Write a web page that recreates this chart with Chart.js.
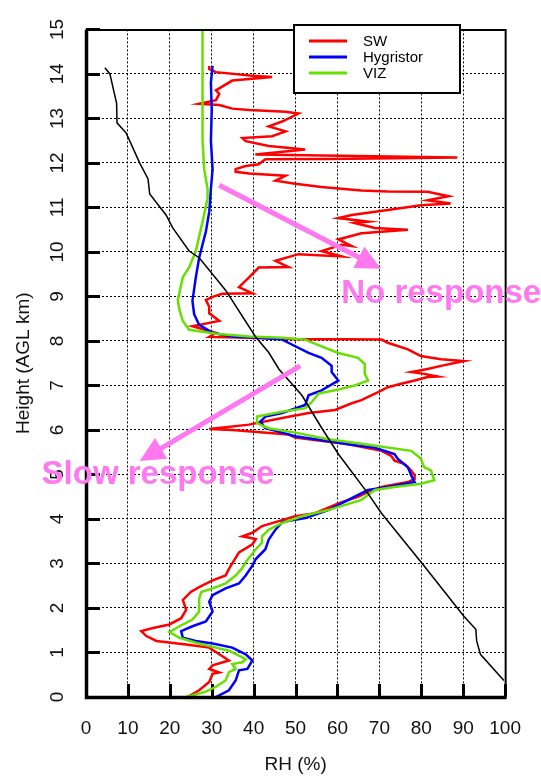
<!DOCTYPE html>
<html>
<head>
<meta charset="utf-8">
<script src="https://cdn.jsdelivr.net/npm/chart.js@4.4.1/dist/chart.umd.min.js"></script>
<style>
  html, body { margin: 0; padding: 0; background: #fff; }
  #wrap { width: 541px; height: 776px; }
</style>
</head>
<body>
<div id="wrap"><canvas id="rhChart"></canvas></div>
<script>
// tick values
const xTickValues = [0, 10, 20, 30, 40, 50, 60, 70, 80, 90, 100];
const yTickValues = [0, 1, 2, 3, 4, 5, 6, 7, 8, 9, 10, 11, 12, 13, 14, 15];

const seriesLabels = ["SW", "Hygristor", "VIZ"];

const swProfile = [
  [24.2,0.0],[27,0.15],[29.4,0.34],[30.2,0.52],[31.8,0.55],[29.4,0.63],[30.2,0.71],[34.1,0.82],[31.8,0.96],
  [29.4,1.11],[23.9,1.18],[16.8,1.26],[14.4,1.37],[13.2,1.48],[16,1.55],[19.9,1.63],[22.7,1.77],[23.9,1.96],
  [23.1,2.18],[25,2.36],[27,2.47],[30.2,2.62],[33.3,2.73],[34.1,2.88],[36.5,3.25],[39.7,3.43],[40.5,3.55],
  [37.3,3.61],[39.7,3.69],[42,3.84],[45.2,3.93],[49.9,4.06],[54.7,4.13],[60.2,4.35],[64.9,4.5],[67.3,4.61],
  [70.5,4.72],[76.8,4.83],[78.4,4.9],[78.4,4.98],[77.6,5.09],[75.9,5.24],[73.6,5.31],[72.8,5.42],[70.5,5.53],
  [62.6,5.68],[49.9,5.83],[48.3,5.9],[34.9,6.0],[29.4,6.02],[38.9,6.12],[46.8,6.27],[53.1,6.38],[59.4,6.45],
  [63.4,6.6],[65.7,6.67],[69.7,6.85],[72,6.96],[75.2,7.04],[78.4,7.11],[81.5,7.19],[83.9,7.2],[80.7,7.26],
  [77.6,7.3],[81.5,7.37],[84.7,7.44],[90.2,7.55],[84.7,7.59],[79.9,7.66],[76.8,7.81],[72,7.96],[70.5,8.03],
  [62.6,8.04],[50.7,8.04],[38.9,8.07],[29.4,8.09],[31,8.18],[25.4,8.33],[31.8,8.45],[29.4,8.62],[29.4,8.77],
  [28.6,8.92],[30.2,8.99],[32.5,9.06],[39.7,9.07],[36.5,9.21],[38.9,9.43],[41.2,9.65],[48.3,9.66],[45.2,9.8],
  [50.7,9.95],[61,9.9],[56.2,10.02],[61,10.16],[63.4,10.13],[60.2,10.28],[65.7,10.42],[76.8,10.5],[68.9,10.54],
  [64.1,10.65],[67.3,10.68],[60.2,10.76],[63.4,10.83],[72,10.94],[79.9,11.05],[87,11.09],[81.5,11.16],
  [86.5,11.25],[81.5,11.35],[72,11.36],[65.7,11.38],[56.2,11.46],[49.9,11.53],[45.2,11.6],[47.6,11.71],
  [38.9,11.76],[35.7,11.8],[35.7,11.86],[38.1,11.93],[41.2,11.97],[42.8,12.08],[57.8,12.09],[88.6,12.12],
  [40.4,12.19],[52.3,12.3],[43.6,12.38],[38.1,12.49],[37.3,12.56],[44.4,12.6],[47.6,12.71],[43.6,12.82],
  [46.8,12.93],[50.7,13.11],[47.6,13.15],[38.9,13.19],[34.9,13.22],[31.8,13.3],[27,13.33],[31,13.41],
  [31.8,13.55],[31,13.63],[34.9,13.85],[44.4,13.93],[39.7,13.96],[31,14.04],[29.4,14.11],[29.4,14.18]
];

const hygristorProfile = [
  [31,0],[34.1,0.15],[35.7,0.37],[36.5,0.6],[38.5,0.63],[39.7,0.82],[38.1,0.96],[34.9,1.11],[30.2,1.2],
  [26.2,1.26],[23.1,1.33],[22.7,1.48],[25.4,1.59],[28.6,1.7],[30.2,1.92],[29.4,2.14],[30.2,2.29],[33.3,2.44],
  [36.5,2.55],[38.1,2.73],[39.7,2.95],[40.5,3.1],[42.8,3.32],[43.6,3.54],[45.2,3.76],[46.8,3.93],[52.3,4.02],
  [57.8,4.2],[64.1,4.5],[67.3,4.65],[72,4.72],[78.4,4.83],[77.6,4.98],[76.8,5.16],[74.4,5.35],[73.6,5.46],
  [68.9,5.6],[62.6,5.68],[54.7,5.79],[49.9,5.86],[46.8,5.94],[42.8,6.04],[41.6,6.19],[42.8,6.3],[46.8,6.38],
  [52.3,6.56],[53.1,6.78],[56.2,6.89],[60.2,7.11],[58.6,7.3],[58.6,7.44],[56.2,7.62],[53.1,7.73],[49.1,7.92],
  [46.8,8.03],[41.2,8.07],[34.9,8.1],[30.2,8.18],[27,8.36],[25.8,8.6],[25.4,8.9],[26.2,9.43],[27,9.87],
  [28.6,10.46],[29.4,10.9],[29.8,11.42],[30.2,11.86],[29.8,12.5],[30,13.2],[29.8,13.8],[30.2,14.18]
];

const vizProfile = [
  [23.9,0],[28.6,0.12],[31,0.23],[33.3,0.37],[34.1,0.56],[35.7,0.63],[34.9,0.74],[37.3,0.78],[38.1,0.85],
  [36.5,0.93],[34.1,1.04],[31,1.11],[26.2,1.22],[22.3,1.33],[19.9,1.46],[22.3,1.59],[25.4,1.74],[27,1.92],
  [27,2.21],[27.5,2.36],[30.2,2.44],[33.3,2.55],[35.7,2.73],[37.3,2.9],[38.1,3.03],[40.5,3.32],[42,3.47],
  [42,3.61],[43.6,3.76],[46.8,3.91],[51.5,4.06],[57.8,4.2],[65.7,4.43],[68.9,4.65],[73.6,4.72],[79.9,4.79],
  [83.1,4.87],[82.3,5.09],[80.7,5.16],[79.9,5.35],[79.1,5.42],[77.6,5.53],[66.5,5.68],[57.8,5.79],[49.9,5.94],
  [43.6,6.04],[40.8,6.15],[40.8,6.3],[46.8,6.41],[52.3,6.49],[53.9,6.63],[55.5,6.82],[59.4,6.89],[64.1,7.0],
  [67.3,7.11],[66.5,7.26],[66.5,7.48],[64.9,7.62],[60.2,7.73],[56.2,7.88],[52.3,8.03],[46.8,8.07],[38.9,8.1],
  [31,8.16],[24.6,8.25],[23.1,8.45],[22.3,8.69],[21.9,8.92],[23.1,9.43],[24.6,9.65],[26.2,10.02],[27.8,10.68],
  [29,11.2],[29,11.42],[28.2,11.86],[27.8,12.5],[27.8,13.5],[27.8,14.2],[27.8,15]
];

const blackProfile = [
  [99.7,0.37],[94.1,0.96],[93.2,1.26],[93.0,1.52],[90.2,1.81],[80.3,2.99],[70.5,4.13],[67.3,4.57],[60.2,5.46],
  [56.2,6.05],[51.5,6.78],[46,7.37],[43.6,7.74],[40.4,8.1],[33.3,9.14],[27,9.87],[24.6,10.02],[20.7,10.54],
  [19.1,10.83],[15.2,11.3],[14.8,11.64],[12.8,12.0],[9.6,12.67],[7.4,12.9],[7.3,13.34],[5.7,14.0],[4.5,14.14]
];

// annotations, in data units [RH, km]
const noResponseArrow = { from: [31.8, 11.5], to: [70.4, 9.62] };
const slowResponseArrow = { from: [51.1, 7.44], to: [12.8, 5.3] };
const noResponseText = { text: "No response", at: [60.9, 9.05] };
const slowResponseText = { text: "Slow response", at: [-10.6, 4.98] };

const toXY = (arr) => arr.map(p => ({ x: p[0], y: p[1] }));

function drawArrow(ctx, x, y, a) {
  const x0 = x.getPixelForValue(a.from[0]), y0 = y.getPixelForValue(a.from[1]);
  const x1 = x.getPixelForValue(a.to[0]), y1 = y.getPixelForValue(a.to[1]);
  const len = Math.hypot(x1 - x0, y1 - y0);
  const dx = (x1 - x0) / len, dy = (y1 - y0) / len;
  const bx = x1 - dx * 25, by = y1 - dy * 25;
  ctx.beginPath();
  ctx.moveTo(x0, y0);
  ctx.lineTo(bx + dx * 2, by + dy * 2);
  ctx.stroke();
  ctx.beginPath();
  ctx.moveTo(x1, y1);
  ctx.lineTo(bx - dy * 12, by + dx * 12);
  ctx.lineTo(bx + dy * 12, by - dx * 12);
  ctx.closePath();
  ctx.fill();
}

const extrasPlugin = {
  id: "extras",
  beforeDatasetsDraw(chart) {
    const { ctx, chartArea: a, scales: { x, y } } = chart;
    ctx.save();
    ctx.strokeStyle = "#000";
    ctx.lineWidth = 3;
    ctx.beginPath();
    xTickValues.forEach(v => {
      const px = Math.round(x.getPixelForValue(v)) + 0.5;
      ctx.moveTo(px, a.bottom);
      ctx.lineTo(px, a.bottom - 13);
    });
    yTickValues.forEach(v => {
      const py = Math.round(y.getPixelForValue(v)) + 0.5;
      ctx.moveTo(a.left, py);
      ctx.lineTo(a.left + 14, py);
    });
    ctx.stroke();
    ctx.restore();
  },
  afterDatasetsDraw(chart) {
    const { ctx, chartArea: a } = chart;
    ctx.save();
    ctx.strokeStyle = "#000";
    ctx.lineWidth = 2;
    ctx.beginPath();
    ctx.moveTo(a.left, a.top + 0.5);
    ctx.lineTo(a.right + 0.5, a.top + 0.5);
    ctx.lineTo(a.right + 0.5, a.bottom);
    ctx.stroke();
    ctx.lineWidth = 3.5;
    ctx.beginPath();
    ctx.moveTo(a.left + 0.5, a.top);
    ctx.lineTo(a.left + 0.5, a.bottom + 0.5);
    ctx.lineTo(a.right + 1.5, a.bottom + 0.5);
    ctx.stroke();
    ctx.restore();
  },
  afterDraw(chart) {
    const { ctx, scales: { x, y } } = chart;
    ctx.save();

    // legend box
    const lx = 294, ly = 25, lw = 166, lh = 68;
    ctx.fillStyle = "#fff";
    ctx.fillRect(lx, ly, lw, lh);
    ctx.strokeStyle = "#000";
    ctx.lineWidth = 2;
    ctx.strokeRect(lx, ly, lw, lh);
    ctx.font = "15px 'Liberation Sans', Arial, sans-serif";
    ctx.textBaseline = "middle";
    ctx.textAlign = "left";
    seriesLabels.forEach((lab, i) => {
      const ds = chart.data.datasets[i];
      const yy = ly + 16 + i * 16;
      ctx.strokeStyle = ds.borderColor;
      ctx.lineWidth = 3;
      ctx.beginPath();
      ctx.moveTo(lx + 15, yy);
      ctx.lineTo(lx + 53, yy);
      ctx.stroke();
      ctx.fillStyle = "#000";
      ctx.fillText(lab, lx + 69, yy + 1);
    });

    // annotations
    const pink = "#ff78f0";
    ctx.strokeStyle = pink;
    ctx.fillStyle = pink;
    ctx.lineWidth = 5;
    drawArrow(ctx, x, y, noResponseArrow);
    drawArrow(ctx, x, y, slowResponseArrow);
    ctx.font = "bold 33px 'Liberation Sans', Arial, sans-serif";
    ctx.textBaseline = "middle";
    [noResponseText, slowResponseText].forEach(t => {
      ctx.fillText(t.text, x.getPixelForValue(t.at[0]), y.getPixelForValue(t.at[1]));
    });
    ctx.restore();
  }
};

const tickFont = { family: "'Liberation Sans', Arial, sans-serif", size: 19 };

new Chart(document.getElementById("rhChart"), {
  type: "scatter",
  data: {
    datasets: [
      { label: seriesLabels[0], data: toXY(swProfile), borderColor: "#ff0000", borderWidth: 2.5, order: 3 },
      { label: seriesLabels[1], data: toXY(hygristorProfile), borderColor: "#0000ff", borderWidth: 2.5, order: 2 },
      { label: seriesLabels[2], data: toXY(vizProfile), borderColor: "#66e000", borderWidth: 2.5, order: 1 },
      { label: "", data: toXY(blackProfile), borderColor: "#000000", borderWidth: 1.5, order: 0 }
    ].map(d => Object.assign(d, { showLine: true, pointRadius: 0, tension: 0, fill: false }))
  },
  options: {
    responsive: true,
    maintainAspectRatio: false,
    animation: false,
    layout: { padding: { top: 18, right: 33, left: 0, bottom: 0 } },
    plugins: { legend: { display: false }, tooltip: { enabled: false } },
    scales: {
      x: {
        type: "linear",
        min: 0,
        max: 100,
        afterBuildTicks: s => { s.ticks = xTickValues.map(v => ({ value: v })); },
        afterFit: s => { s.height = 79; },
        grid: { color: "#000", lineWidth: 1, drawTicks: false },
        border: { display: false, dash: [2, 2] },
        ticks: { color: "#111", font: tickFont, padding: 20, autoSkip: false, maxRotation: 0 },
        title: { display: true, text: "RH (%)", color: "#111", font: tickFont, padding: { top: 0, bottom: 0 } }
      },
      y: {
        type: "linear",
        min: 0,
        max: 15,
        afterBuildTicks: s => { s.ticks = yTickValues.map(v => ({ value: v })); },
        afterFit: s => { s.width = 86; },
        grid: { color: "#000", lineWidth: 1, drawTicks: false },
        border: { display: false, dash: [2, 2] },
        ticks: { color: "#111", font: tickFont, padding: 18, autoSkip: false, minRotation: 90, maxRotation: 90, crossAlign: "center" },
        title: { display: true, text: "Height (AGL km)", color: "#111", font: tickFont, padding: { top: 12, bottom: 0 } }
      }
    }
  },
  plugins: [extrasPlugin]
});
</script>
</body>
</html>
